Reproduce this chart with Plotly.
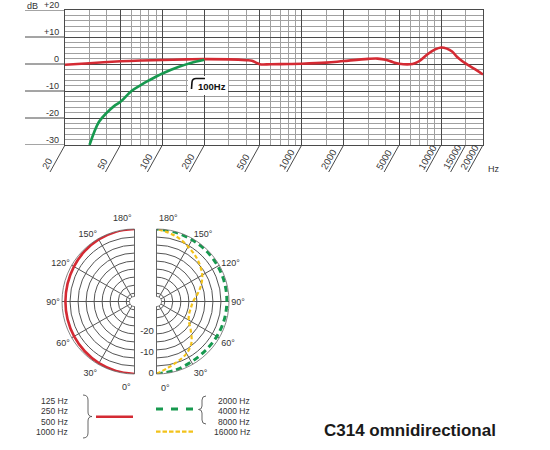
import math
import plotly.graph_objects as go

W, H = 550, 450

# ---------------- frequency response data ----------------
fr_freq = [20, 30, 50, 70, 100, 150, 200, 300, 400, 440, 470, 500, 600, 800, 1000, 1500,
           2000, 3000, 3500, 4000, 4500, 5000, 6000, 6500, 7000, 8000, 9000, 10000,
           11000, 12000, 13000, 14000, 15000, 17500, 20000]
fr_db = [-0.3, 0.3, 1.0, 1.3, 1.5, 1.7, 1.8, 1.7, 1.4, 1.2, 0.5, -0.1, -0.1, 0.0, 0.1, 0.5,
         1.1, 1.9, 2.0, 1.6, 0.7, 0.1, -0.1, 0.3, 1.1, 3.6, 5.3, 6.1,
         5.7, 4.6, 2.7, 1.3, 0.2, -1.9, -3.9]

lc_freq = [30, 35, 40, 45, 50, 60, 70, 80, 100, 130, 160, 200]
lc_db = [-30, -21.5, -18, -15.6, -14, -10, -7.8, -6.1, -3.5, -1.1, 0.4, 1.6]

label_freqs = [20, 50, 100, 200, 500, 1000, 2000, 5000, 10000, 15000, 20000]
major_freqs = [20, 50, 100, 200, 500, 1000, 2000, 5000, 10000, 20000]
minor_freqs = [30, 40, 60, 70, 80, 90, 150, 300, 400, 600, 700, 800, 900, 1500,
               3000, 4000, 6000, 7000, 8000, 9000, 15000]
db_major = [-30, -20, -10, 0, 10, 20]
db_major_text = ["-30", "-20", "-10", "0", "+10", "+20"]
db_minor = [v for v in range(-30, 21, 2) if v % 10 != 0]

# ---------------- polar data ----------------
theta_15 = [0, 15, 30, 45, 60, 75, 90, 105, 120, 135, 150, 165, 180]
low_db = [0, -0.3, -0.6, -1.0, -1.3, -1.5, -1.6, -1.5, -1.2, -0.8, -0.4, -0.1, 0]
mid_db = [0, -0.6, -1.3, -1.5, -1.3, -1.1, -1.0, -0.9, -0.8, -0.7, -0.6, -0.3, 0]
theta_10 = [0, 10, 20, 30, 40, 50, 60, 70, 80, 90, 100, 110, 120, 130, 140, 150, 160, 170, 180]
high_db = [0, -2.5, -4.2, -5.8, -8.5, -13, -16.5, -17.6, -17.5, -16.8, -14.5, -11.7, -9.2, -7.4,
           -5.8, -4.3, -2.6, -1.2, 0]
ring_db = [0, -3.75, -7.5, -11.25, -15, -18.75, -22.5, -26.25, -30]
radial_labels = [0, -10, -20]
angle_ticks = [0, 30, 60, 90, 120, 150, 180]
end_angles = [0, 180]

legend_low = ["125 Hz", "250 Hz", "500 Hz", "1000 Hz"]
legend_high = ["2000 Hz", "4000 Hz", "8000 Hz", "16000 Hz"]

RED = "#d42a33"
GREEN = "#17994f"
YELLOW = "#f2c21b"
DARK = "#4a4a4a"
LIGHT = "#a0a0a0"
TXT = "#333333"
FONT = "Liberation Sans, Arial, sans-serif"


def px(x):
    return x / W


def py(y):
    return 1 - y / H


def deg_text(a):
    return f"{a}°"


rng = [math.log10(20), math.log10(20000)]

fig = go.Figure()

fig.add_trace(go.Scatter(x=fr_freq, y=fr_db, mode="lines", line=dict(color=RED, width=2.6, shape="spline"),
                         xaxis="x", yaxis="y", showlegend=False, hoverinfo="skip"))
fig.add_trace(go.Scatter(x=lc_freq, y=lc_db, mode="lines", line=dict(color=GREEN, width=2.6, shape="spline"),
                         xaxis="x", yaxis="y", showlegend=False, hoverinfo="skip"))

# left half: angular axis drawn counterclockwise from the top, so theta is mirrored (180 - angle)
fig.add_trace(go.Scatterpolar(r=low_db, theta=[180 - a for a in theta_15], mode="lines", subplot="polar",
                              line=dict(color=RED, width=2.6, shape="spline"), showlegend=False, hoverinfo="skip"))
fig.add_trace(go.Scatterpolar(r=mid_db, theta=theta_15, mode="lines", subplot="polar2",
                              line=dict(color=GREEN, width=3, dash="6px,4px", shape="spline"),
                              showlegend=False, hoverinfo="skip"))
fig.add_trace(go.Scatterpolar(r=high_db, theta=theta_10, mode="lines", subplot="polar2",
                              line=dict(color=YELLOW, width=2.2, dash="4px,2.5px", shape="spline"),
                              showlegend=False, hoverinfo="skip"))
fig.add_trace(go.Scatterpolar(r=radial_labels, theta=[0] * len(radial_labels), mode="text", subplot="polar2",
                              text=[f"{v}\u00a0" for v in radial_labels], textposition="middle left",
                              textfont=dict(size=9.5, color=TXT, family=FONT), cliponaxis=False,
                              showlegend=False, hoverinfo="skip"))

shapes = []
# extend major dB lines to the left
for v in db_major:
    shapes.append(dict(type="line", xref="paper", yref="y", x0=px(25), x1=px(65), y0=v, y1=v,
                       line=dict(color=DARK, width=1)))
# slanted tick marks under the frequency grid
for f in label_freqs:
    frac = (math.log10(f) - rng[0]) / (rng[1] - rng[0])
    shapes.append(dict(type="line", xref="x domain", yref="y domain", xsizemode="pixel", ysizemode="pixel",
                       xanchor=frac, yanchor=0, x0=0, x1=-15, y0=0, y1=-27,
                       line=dict(color=DARK, width=1)))

# braces
shapes.append(dict(type="path", xref="paper", yref="paper",
                   path=(f"M {px(83)} {py(395)} Q {px(88)} {py(395)} {px(88)} {py(400)} "
                         f"L {px(88)} {py(412)} Q {px(88)} {py(416.5)} {px(92)} {py(416.5)} "
                         f"Q {px(88)} {py(416.5)} {px(88)} {py(421)} L {px(88)} {py(433)} "
                         f"Q {px(88)} {py(438)} {px(83)} {py(438)}"),
                   line=dict(color="#555", width=0.9)))
shapes.append(dict(type="path", xref="paper", yref="paper",
                   path=(f"M {px(206)} {py(396)} Q {px(202)} {py(396)} {px(202)} {py(400)} "
                         f"L {px(202)} {py(406)} Q {px(202)} {py(409.5)} {px(198.5)} {py(409.5)} "
                         f"Q {px(202)} {py(409.5)} {px(202)} {py(413)} L {px(202)} {py(420)} "
                         f"Q {px(202)} {py(424)} {px(206)} {py(424)}"),
                   line=dict(color="#555", width=0.9)))
# legend samples
shapes.append(dict(type="line", xref="paper", yref="paper", x0=px(96), x1=px(133), y0=py(416.7), y1=py(416.7),
                   line=dict(color=RED, width=2.6)))
shapes.append(dict(type="line", xref="paper", yref="paper", x0=px(156), x1=px(194), y0=py(409), y1=py(409),
                   line=dict(color=GREEN, width=3, dash="7px,8px")))
shapes.append(dict(type="line", xref="paper", yref="paper", x0=px(156), x1=px(194), y0=py(431.7), y1=py(431.7),
                   line=dict(color=YELLOW, width=2.2, dash="4.5px,2px")))
# low-cut badge: white box + symbol
shapes.append(dict(type="rect", xref="paper", yref="paper", x0=px(188), x1=px(228), y0=py(95), y1=py(76),
                   fillcolor="white", line=dict(width=0)))
shapes.append(dict(type="path", xref="paper", yref="paper",
                   path=(f"M {px(191.5)} {py(89)} L {px(192)} {py(82)} Q {px(192.5)} {py(78.5)} {px(196)} {py(78.5)} "
                         f"L {px(205)} {py(78.5)}"),
                   line=dict(color="#111", width=1.6)))
for s in shapes:
    s.setdefault("layer", "above")

annotations = []
annotations.append(dict(text="<b>100Hz</b>", x=px(196), y=py(86), xref="paper", yref="paper", showarrow=False,
                        xanchor="left", yanchor="middle", font=dict(size=9.5, color="#111", family=FONT)))
annotations.append(dict(text="dB", x=px(25), y=py(5.5), xref="paper", yref="paper", showarrow=False,
                        xanchor="left", yanchor="middle", font=dict(size=9, color=TXT, family=FONT)))
for v, t in zip(db_major, db_major_text):
    annotations.append(dict(text=t, x=px(61), y=v, xref="paper", yref="y", yshift=5.5, showarrow=False,
                            xanchor="right", yanchor="middle", font=dict(size=9, color=TXT, family=FONT)))
for f in label_freqs:
    annotations.append(dict(text=str(f), x=math.log10(f), y=-30, xref="x", yref="y", showarrow=False,
                            textangle=-60, xanchor="left", yanchor="bottom", xshift=-28, yshift=-29,
                            font=dict(size=9.5, color=TXT, family=FONT)))
annotations.append(dict(text="Hz", x=px(486), y=py(169), xref="paper", yref="paper", showarrow=False,
                        xanchor="left", yanchor="middle", font=dict(size=9, color=TXT, family=FONT)))
# 0° / 180° labels beside the split line of the two half-diagrams
end_pos = {("L", 180): (122, 218), ("R", 180): (168, 218), ("L", 0): (126, 387), ("R", 0): (165, 388)}
for (side, a), (xx, yy) in end_pos.items():
    annotations.append(dict(text=deg_text(a), x=px(xx), y=py(yy), xref="paper", yref="paper", showarrow=False,
                            xanchor="center", yanchor="middle", font=dict(size=9, color=TXT, family=FONT)))
for i, t in enumerate(legend_low):
    annotations.append(dict(text=t, x=px(70), y=py(400.7 + i * 10.4), xref="paper", yref="paper",
                            showarrow=False, xanchor="right", yanchor="middle",
                            font=dict(size=8.5, color=TXT, family=FONT)))
for i, t in enumerate(legend_high):
    annotations.append(dict(text=t, x=px(252), y=py(400.7 + i * 10.4), xref="paper", yref="paper",
                            showarrow=False, xanchor="right", yanchor="middle",
                            font=dict(size=8.5, color=TXT, family=FONT)))
annotations.append(dict(text="<b>C314 omnidirectional</b>", x=px(322), y=py(430), xref="paper", yref="paper",
                        showarrow=False, xanchor="left", yanchor="middle",
                        font=dict(size=17, color="#1a1a1a", family=FONT)))

angular_base = dict(showgrid=True, gridcolor="#555", gridwidth=0.7, showline=True,
                    linecolor="#666", linewidth=0.8, ticks="",
                    tickfont=dict(size=9, color=TXT, family=FONT))
radial_base = dict(range=[-31.5, 0], tickvals=ring_db, showticklabels=False, showline=False,
                   ticks="", gridcolor="#555", gridwidth=0.7)
side_text = [deg_text(a) if a not in end_angles else "" for a in angle_ticks]

fig.update_layout(
    width=W, height=H, margin=dict(l=0, r=0, t=0, b=0),
    paper_bgcolor="white", plot_bgcolor="white", showlegend=False,
    font=dict(family=FONT, color=TXT),
    xaxis=dict(type="log", range=rng, domain=[px(65), px(483)], anchor="y",
               tickvals=major_freqs, showticklabels=False, ticks="",
               showgrid=True, gridcolor=DARK, gridwidth=1,
               minor=dict(tickvals=minor_freqs, showgrid=True, gridcolor=LIGHT, gridwidth=0.8, ticks=""),
               showline=True, mirror=True, linecolor=DARK, linewidth=1, zeroline=False),
    yaxis=dict(range=[-30, 20], domain=[py(145), py(10)], anchor="x",
               tickvals=db_major, showticklabels=False, ticks="",
               showgrid=True, gridcolor=DARK, gridwidth=1,
               minor=dict(tickvals=db_minor, showgrid=True, gridcolor=LIGHT, gridwidth=0.8, ticks=""),
               showline=True, mirror=True, linecolor=DARK, linewidth=1, zeroline=False),
    polar=dict(domain=dict(x=[px(62), px(134.5)], y=[py(374), py(229)]), sector=[90, 270], hole=0.07,
               bgcolor="white",
               angularaxis=dict(direction="counterclockwise", rotation=90,
                                tickvals=[180 - a for a in angle_ticks], ticktext=side_text, **angular_base),
               radialaxis=dict(**radial_base)),
    polar2=dict(domain=dict(x=[px(156.5), px(229)], y=[py(374), py(229)]), sector=[-90, 90], hole=0.07,
                bgcolor="white",
                angularaxis=dict(direction="counterclockwise", rotation=-90,
                                 tickvals=angle_ticks, ticktext=side_text, **angular_base),
                radialaxis=dict(**radial_base)),
    shapes=shapes, annotations=annotations,
)

fig.write_html("out.html", config={"displayModeBar": False},
               post_script="document.body.style.margin='0px';")
